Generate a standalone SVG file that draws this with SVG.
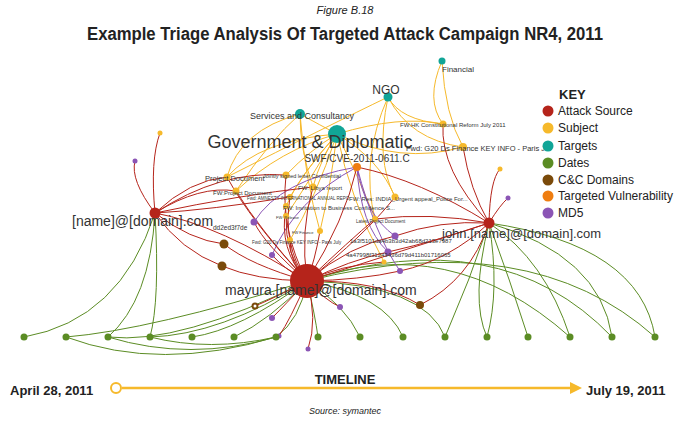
<svg xmlns="http://www.w3.org/2000/svg" width="690" height="427" viewBox="0 0 690 427">
<style>
text{font-family:"Liberation Sans",Arial,sans-serif;fill:#222}
.e path{fill:none;stroke-width:1}
.r path{stroke:#b5241b}.y path{stroke:#f6b92b}.g path{stroke:#5b8c24}.p path{stroke:#8b55b5}
.R{fill:#b5241b}.Y{fill:#f6b92b}.T{fill:#11a597}.G{fill:#5b8c24}.B{fill:#7a4a0a}.O{fill:#ef7d10}.P{fill:#8b55b5}
.l{fill:#333}
.k{font-size:12px;fill:#222}
</style>
<rect width="690" height="427" fill="#fff"/>
<text x="345" y="14" font-size="11" font-style="italic" text-anchor="middle" fill="#333">Figure B.18</text>
<text x="345" y="40" font-size="18" font-weight="bold" text-anchor="middle" textLength="516" lengthAdjust="spacingAndGlyphs">Example Triage Analysis Of Targeted Attack Campaign NR4, 2011</text>
<g id="connectors" class="e">
<g class="g">
<path d="M155,213 Q120,320 24,337"/><path d="M155,213 Q150,300 108,337"/><path d="M155,213 Q160,300 150,337"/>
<path d="M307,281 Q150,330 66,337"/><path d="M307,281 Q180,345 108,337"/><path d="M307,281 Q220,335 150,337"/><path d="M307,281 Q240,330 192,337"/><path d="M307,281 Q270,320 234,337"/><path d="M307,281 Q300,320 276,337"/><path d="M307,281 Q315,315 318,337"/><path d="M307,281 Q345,305 360,337"/><path d="M307,281 Q385,295 403,337"/><path d="M307,281 Q425,285 445,337"/><path d="M307,281 Q450,230 570,337"/><path d="M307,281 Q500,220 612,337"/><path d="M307,281 Q530,225 655,337"/>
<path d="M489,223 Q470,280 445,337"/><path d="M489,223 Q500,290 487,337"/><path d="M489,223 Q470,300 487,337"/><path d="M489,223 Q510,280 528,337"/><path d="M489,223 Q545,260 570,337"/><path d="M489,223 Q600,255 612,337"/><path d="M489,223 Q640,245 655,337"/>
<path d="M66,337 Q160,372 276,337"/><path d="M108,337 Q190,362 276,337"/><path d="M150,337 Q210,352 276,337"/>
</g>
<g class="y">
<path d="M337,134 Q260,140 227,177"/><path d="M337,134 Q280,150 236,191"/><path d="M337,134 Q310,150 286,175"/><path d="M337,134 Q320,160 313,187"/><path d="M337,134 Q305,170 290,197"/><path d="M337,134 Q300,175 286,206"/><path d="M337,134 Q310,180 286,216"/><path d="M337,134 Q330,190 320,231"/><path d="M337,134 Q315,200 290,240"/><path d="M337,134 Q380,160 395,197"/><path d="M337,134 Q360,180 375,219"/><path d="M337,134 Q400,115 443,124"/><path d="M337,134 Q400,165 463,147"/><path d="M337,134 Q350,200 384,262"/>
<path d="M300,114 Q240,130 227,177"/><path d="M300,114 Q270,140 236,191"/><path d="M300,114 Q300,150 313,187"/><path d="M300,114 Q320,125 337,134"/><path d="M300,114 Q305,180 320,231"/>
<path d="M388,97 Q400,120 443,124"/><path d="M388,97 Q410,140 463,147"/><path d="M388,97 Q360,160 375,219"/><path d="M388,97 Q375,160 395,197"/><path d="M388,97 Q330,125 227,177"/>
<path d="M442,61 Q425,100 443,124"/><path d="M442,61 Q445,115 463,147"/>
</g>
<g class="p">
<path d="M357,167 Q280,180 254,222"/><path d="M357,167 Q365,215 395,236"/><path d="M357,167 Q360,225 388,252"/><path d="M357,167 Q295,200 272,255"/><path d="M357,167 Q375,235 400,271"/>
</g>
<g class="r">
<path d="M307,281 Q250,220 227,177"/><path d="M307,281 Q260,230 236,191"/><path d="M307,281 Q280,230 286,175"/><path d="M307,281 Q300,230 313,187"/><path d="M307,281 Q282,245 290,197"/><path d="M307,281 Q278,250 286,206"/><path d="M307,281 Q285,255 286,216"/><path d="M307,281 Q315,260 320,231"/><path d="M307,281 Q290,265 290,240"/><path d="M307,281 Q345,220 357,167"/><path d="M307,281 Q350,240 375,219"/><path d="M307,281 Q365,235 395,197"/><path d="M307,281 Q265,245 254,222"/><path d="M307,281 Q350,245 395,236"/><path d="M307,281 Q350,260 388,252"/><path d="M307,281 Q360,280 400,271"/><path d="M307,281 Q285,270 272,255"/><path d="M307,281 Q325,300 340,307"/><path d="M307,281 Q285,305 272,318"/><path d="M307,281 Q290,320 279,336"/><path d="M307,281 Q318,320 308,349"/><path d="M307,281 Q250,265 224,244"/><path d="M307,281 Q255,280 222,266"/><path d="M307,281 Q270,300 255,306"/><path d="M307,281 Q380,280 420,305"/><path d="M307,281 Q405,250 489,223"/><path d="M307,281 Q220,225 155,213"/><path d="M307,281 Q340,265 384,262"/>
<path d="M155,213 Q150,160 160,133"/><path d="M155,213 Q130,180 135,161"/><path d="M155,213 Q190,180 227,177"/><path d="M155,213 Q200,185 236,191"/><path d="M155,213 Q220,170 286,175"/><path d="M155,213 Q210,210 290,197"/><path d="M155,213 Q190,240 224,244"/><path d="M155,213 Q180,250 222,266"/><path d="M155,213 Q240,195 313,187"/>
<path d="M489,223 Q440,170 443,124"/><path d="M489,223 Q470,190 463,147"/><path d="M489,223 Q490,180 500,169"/><path d="M489,223 Q500,205 508,198"/><path d="M489,223 Q440,220 395,236"/><path d="M489,223 Q440,240 388,252"/><path d="M489,223 Q430,212 375,219"/><path d="M489,223 Q420,180 357,167"/><path d="M489,223 Q450,260 400,271"/><path d="M489,223 Q470,280 420,305"/>
</g>
</g>
<g id="targets">
<circle cx="442" cy="61" r="3.5" class="T"/><text x="442" y="72" font-size="8" class="l">Financial</text>
<circle cx="388" cy="97" r="4.5" class="T"/><text x="386" y="94" font-size="12" text-anchor="middle" class="l">NGO</text>
<circle cx="300" cy="114" r="5" class="T"/><text x="302" y="119" font-size="9" text-anchor="middle" class="l">Services and Consultancy</text>
<circle cx="337" cy="134" r="9" class="T"/><text x="310" y="148" font-size="18" text-anchor="middle" class="l">Government &amp; Diplomatic</text>
</g>
<g id="vuln"><circle cx="357" cy="167" r="4" class="O"/><text x="357" y="162" font-size="10" text-anchor="middle" class="l">SWF/CVE-2011-0611.C</text></g>
<g id="subjects" font-size="6">
<circle cx="443" cy="124" r="3.5" class="Y"/><text x="400" y="127" class="l">FW:HK Constitutional Reform July 2011</text>
<circle cx="463" cy="147" r="4" class="Y"/><text x="406" y="151" font-size="7.5" class="l">Fwd: G20 Ds Finance KEY INFO - Paris J...</text>
<circle cx="227" cy="177" r="3.5" class="Y"/><text x="205" y="181" font-size="7.5" class="l">Project Document</text>
<circle cx="286" cy="175" r="3.5" class="Y"/><text x="263" y="178" font-size="5.5" class="l">Jointly signed letter Confidential</text>
<circle cx="236" cy="191" r="3.5" class="Y"/><text x="213" y="195" class="l">FW:Project Document</text>
<circle cx="313" cy="187" r="3.5" class="Y"/><text x="298" y="190" class="l">FW: Libya report</text>
<circle cx="290" cy="197" r="3" class="Y"/><text x="247" y="200" font-size="4.5" class="l">Fwd: AMNESTY INTERNATIONAL ANNUAL REPO</text>
<circle cx="286" cy="206" r="3" class="Y"/><text x="283" y="210" class="l">FW: Invitation to Business Confidence S...</text>
<circle cx="395" cy="197" r="3.5" class="Y"/><text x="349" y="201" class="l">FW: Res: INDIA_Urgent appeal_Police For...</text>
<circle cx="286" cy="216" r="3" class="Y"/><text x="276" y="219" font-size="4" class="l">FW: Release</text>
<circle cx="375" cy="219" r="3" class="Y"/><text x="356" y="223" font-size="4.5" class="l">Latest Project Document</text>
<circle cx="320" cy="231" r="3" class="Y"/><text x="292" y="234" font-size="4" class="l">FW Finance</text>
<circle cx="290" cy="240" r="3" class="Y"/><text x="252" y="244" font-size="4.5" class="l">Fwd: G20 Ds Finance KEY INFO - Paris July</text>
<circle cx="384" cy="262" r="2.5" class="Y"/>
<circle cx="500" cy="169" r="2.5" class="Y"/>
<circle cx="160" cy="133" r="2.5" class="Y"/>
</g>
<g id="md5">
<circle cx="135" cy="161" r="2.5" class="P"/><circle cx="508" cy="198" r="2.5" class="P"/>
<circle cx="254" cy="222" r="3.5" class="P"/><text x="213" y="230" font-size="6.5" class="l">dd2ed3f7de</text>
<circle cx="395" cy="236" r="3.5" class="P"/><text x="350" y="243" font-size="6" class="l">1a3f5101da4b3b3d42ab68d213e7987</text>
<circle cx="388" cy="252" r="3.5" class="P"/><text x="346" y="257" font-size="6" class="l">4a47998f31243436d79d411b01716065</text>
<circle cx="400" cy="271" r="3" class="P"/><circle cx="272" cy="255" r="3" class="P"/>
<circle cx="340" cy="307" r="3" class="P"/><circle cx="272" cy="318" r="3" class="P"/>
<circle cx="279" cy="336" r="2.5" class="P"/><circle cx="308" cy="349" r="2.5" class="P"/>
</g>
<g id="cc">
<circle cx="224" cy="244" r="4.5" class="B"/><circle cx="222" cy="266" r="4.5" class="B"/>
<circle cx="255" cy="306" r="3.5" class="B"/><circle cx="255" cy="306" r="1.5" fill="#fff"/>
<circle cx="420" cy="305" r="4" class="B"/>
</g>
<g id="sources">
<circle cx="155" cy="213" r="5.5" class="R"/><text x="72" y="226" font-size="14" class="l">[name]@[domain].com</text>
<circle cx="489" cy="223" r="5.5" class="R"/><text x="442" y="238" font-size="13" class="l">john.[name]@[domain].com</text>
<circle cx="307" cy="281" r="17" class="R"/><text x="225" y="295" font-size="14" class="l">mayura.[name]@[domain].com</text>
</g>
<g id="dates">
<circle cx="24" cy="337" r="3.5" class="G"/><circle cx="66" cy="337" r="3.5" class="G"/><circle cx="108" cy="337" r="3.5" class="G"/><circle cx="150" cy="337" r="3.5" class="G"/><circle cx="192" cy="337" r="3.5" class="G"/><circle cx="234" cy="337" r="3.5" class="G"/><circle cx="276" cy="337" r="3.5" class="G"/><circle cx="318" cy="337" r="3.5" class="G"/><circle cx="360" cy="337" r="3.5" class="G"/><circle cx="403" cy="337" r="3.5" class="G"/><circle cx="445" cy="337" r="3.5" class="G"/><circle cx="487" cy="337" r="3.5" class="G"/><circle cx="528" cy="337" r="3.5" class="G"/><circle cx="570" cy="337" r="3.5" class="G"/><circle cx="612" cy="337" r="3.5" class="G"/><circle cx="655" cy="337" r="3.5" class="G"/>
</g>
<g id="key">
<text x="559" y="99" font-size="13" font-weight="bold">KEY</text>
<circle cx="548" cy="111" r="5.5" class="R"/><text x="558" y="115" class="k">Attack Source</text>
<circle cx="548" cy="128" r="5.5" class="Y"/><text x="558" y="132" class="k">Subject</text>
<circle cx="548" cy="146" r="5.5" class="T"/><text x="558" y="150" class="k">Targets</text>
<circle cx="548" cy="163" r="5.5" class="G"/><text x="558" y="167" class="k">Dates</text>
<circle cx="548" cy="180" r="5.5" class="B"/><text x="558" y="184" class="k">C&amp;C Domains</text>
<circle cx="548" cy="196" r="5.5" class="O"/><text x="558" y="200" class="k">Targeted Vulnerability</text>
<circle cx="548" cy="213" r="5.5" class="P"/><text x="558" y="217" class="k">MD5</text>
</g>
<g id="timeline">
<text x="345" y="384" font-size="13" font-weight="bold" text-anchor="middle">TIMELINE</text>
<text x="10" y="395" font-size="13" font-weight="bold">April 28, 2011</text>
<line x1="122" y1="388" x2="572" y2="388" stroke="#f6b92b" stroke-width="2.5"/>
<polygon points="570,382 582,388 570,394" fill="#f6b92b"/>
<circle cx="116" cy="388" r="5" fill="#fff" stroke="#f6b92b" stroke-width="2"/>
<text x="586" y="395" font-size="13" font-weight="bold">July 19, 2011</text>
<text x="345" y="414" font-size="9" font-style="italic" text-anchor="middle" fill="#aaa">Source: symantec</text>
</g>
</svg>
